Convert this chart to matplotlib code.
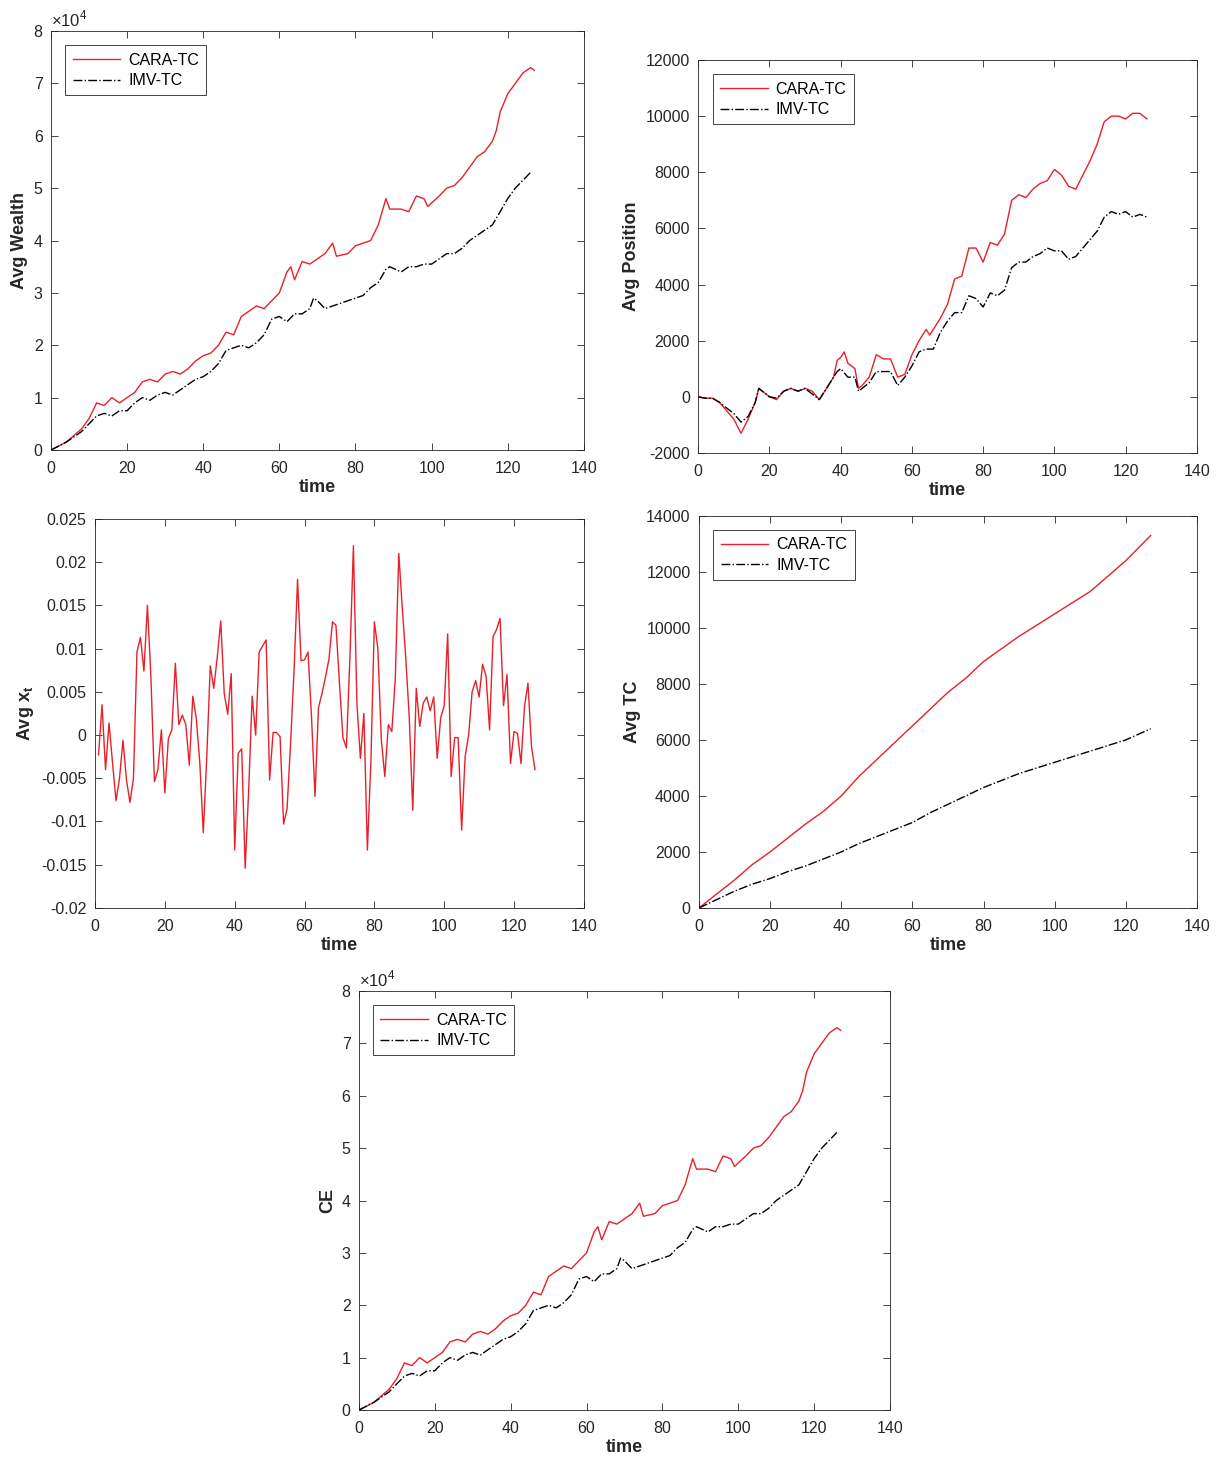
import matplotlib
matplotlib.use("Agg")
import matplotlib.pyplot as plt
from matplotlib.ticker import FuncFormatter
import numpy as np

plt.rcParams['font.family'] = ['Liberation Sans', 'DejaVu Sans']
plt.rcParams['mathtext.fontset'] = 'custom'
plt.rcParams['mathtext.rm'] = 'Liberation Sans'
plt.rcParams['mathtext.bf'] = 'Liberation Sans:bold'
plt.rcParams['axes.unicode_minus'] = False

# ---- data ----
w_t = [0,4,8,10,12,14,16,18,20,22,24,26,28,30,32,34,36,38,40,42,44,46,48,50,52,54,56,58,60,62,63,64,66,68,70,72,74,75,78,80,82,84,86,88,89,92,94,96,98,99,102,104,106,108,110,112,114,116,117,118,120,122,124,126,127]
wealth_cara = [0,0.15,0.4,0.6,0.9,0.85,1.0,0.9,1.0,1.1,1.3,1.35,1.3,1.45,1.5,1.45,1.55,1.7,1.8,1.85,2.0,2.25,2.2,2.55,2.65,2.75,2.7,2.85,3.0,3.4,3.5,3.25,3.6,3.55,3.65,3.75,3.95,3.7,3.75,3.9,3.95,4.0,4.3,4.8,4.6,4.6,4.55,4.85,4.8,4.65,4.85,5.0,5.05,5.2,5.4,5.6,5.7,5.9,6.1,6.45,6.8,7.0,7.2,7.3,7.25]
wi_t = [0,4,8,10,12,14,16,18,20,22,24,26,28,30,32,34,36,38,40,42,44,46,48,50,52,54,56,58,60,62,64,66,68,69,70,72,74,76,78,80,82,84,86,88,89,92,94,96,98,100,102,104,106,108,110,112,114,116,118,120,122,124,126]
wealth_imv = [0,0.15,0.35,0.5,0.65,0.7,0.65,0.75,0.75,0.9,1.0,0.95,1.05,1.1,1.05,1.15,1.25,1.35,1.4,1.5,1.65,1.9,1.95,2.0,1.95,2.05,2.2,2.5,2.55,2.45,2.6,2.6,2.7,2.9,2.85,2.7,2.75,2.8,2.85,2.9,2.95,3.1,3.2,3.45,3.5,3.4,3.5,3.5,3.55,3.55,3.65,3.75,3.75,3.85,4.0,4.1,4.2,4.3,4.55,4.8,5.0,5.15,5.3]
ce_cara = list(wealth_cara)
ce_imv = list(wealth_imv)

pc_t = [0,2,4,6,8,10,12,14,16,17,18,20,22,24,26,28,30,32,34,36,38,39,40,41,42,44,45,46,48,50,52,54,56,58,60,62,64,65,68,70,72,74,76,78,80,82,84,86,88,90,92,94,96,98,100,102,104,106,108,110,112,114,116,118,120,122,124,126]
pos_cara = [0,-50,-50,-200,-500,-800,-1300,-800,-200,300,200,0,-100,200,300,200,300,200,-100,300,700,1300,1400,1600,1200,1000,300,400,700,1500,1350,1350,700,800,1500,2000,2400,2200,2800,3300,4200,4300,5300,5300,4800,5500,5400,5800,7000,7200,7100,7400,7600,7700,8100,7900,7500,7400,7900,8400,9000,9800,10000,10000,9900,10100,10100,9900]
pi_t = [0,2,4,6,8,10,12,14,16,17,18,20,22,24,26,28,30,32,34,36,38,39,40,42,44,45,46,48,50,52,54,56,58,60,62,64,66,68,70,72,74,76,78,80,82,84,86,88,90,92,94,96,98,100,102,104,106,108,110,112,114,116,118,120,122,124,126]
pos_imv = [0,-50,-50,-200,-400,-600,-900,-700,-200,300,200,0,-50,200,300,200,300,100,-100,300,700,900,1000,700,700,200,300,500,900,900,900,400,700,1100,1600,1700,1700,2300,2700,3000,3000,3600,3500,3200,3700,3600,3800,4600,4800,4800,5000,5100,5300,5200,5200,4900,5000,5300,5600,5900,6400,6600,6500,6600,6400,6500,6400]

x_vals = [-0.0023,0.0035,-0.004,0.0014,-0.0032,-0.0076,-0.005,-0.0006,-0.0052,-0.0078,
          -0.005,0.0096,0.0113,0.0074,0.015,0.0067,-0.0054,-0.004,0.0006,-0.0067,
          -0.0004,0.0006,0.0083,0.0012,0.0023,0.0012,-0.0035,0.0045,0.0019,-0.0032,
          -0.0113,-0.0025,0.008,0.0054,0.009,0.0132,0.0048,0.0024,0.0071,-0.0133,
          -0.0021,-0.0016,-0.0154,-0.0064,0.0045,0.0,0.0096,0.0103,0.011,-0.0052,
          0.0003,0.0003,-0.0002,-0.0103,-0.0085,-0.001,0.0075,0.018,0.0086,0.0087,
          0.0096,0.0021,-0.0071,0.0032,0.0048,0.0067,0.0088,0.0131,0.0127,0.006,
          -0.0003,-0.0015,0.009,0.0219,0.0037,-0.0027,0.0025,-0.0133,-0.0032,0.0131,
          0.01,-0.0006,-0.0048,0.0012,0.0004,0.0066,0.021,0.0147,0.0089,0.002,
          -0.0087,0.0054,0.001,0.0037,0.0044,0.0028,0.0044,-0.0027,0.002,0.0034,
          0.0117,-0.0048,-0.0003,-0.0003,-0.011,-0.0025,0.0,0.005,0.0063,0.0044,
          0.0082,0.0068,0.0006,0.0114,0.0122,0.0135,0.0034,0.007,-0.0033,0.0004,
          0.0002,-0.0033,0.0033,0.006,-0.0013,-0.004]
x_t = list(range(1, len(x_vals) + 1))

tc_t = [0,5,10,15,20,25,30,35,40,45,50,55,60,65,70,75,80,85,90,95,100,105,110,115,120,127]
tc_cara = [0,500,1000,1550,2000,2500,3000,3450,4000,4700,5300,5900,6500,7100,7700,8200,8800,9250,9700,10100,10500,10900,11300,11850,12400,13300]
tc_imv = [0,300,600,850,1050,1300,1500,1750,2000,2300,2550,2800,3050,3400,3700,4000,4300,4550,4800,5000,5200,5400,5600,5800,6000,6400]

RED = '#e8202a'
GRAY = '#262626'
fig = plt.figure(figsize=(12.25, 14.63), dpi=100)

def style(ax, xlabel, ylabel, ylim, yticks):
    ax.set_xlim(0, 140)
    ax.set_xticks(range(0, 141, 20))
    ax.set_ylim(*ylim)
    ax.set_yticks(yticks)
    ax.tick_params(direction='in', top=True, right=True, labelsize=11.5, colors=GRAY, length=5, width=0.6)
    ax.tick_params(axis='x', pad=8)
    ax.tick_params(axis='y', pad=6)
    for s in ax.spines.values():
        s.set_color(GRAY); s.set_linewidth(0.6)
    ax.set_xlabel(xlabel, fontsize=13, fontweight='bold', color=GRAY, labelpad=2)
    ax.set_ylabel(ylabel, fontsize=13, fontweight='bold', color=GRAY)

def legend(ax):
    lg = ax.legend(loc='upper left', fontsize=11.5, fancybox=False, edgecolor=GRAY,
                   framealpha=1, borderaxespad=0.9, handlelength=3.0, borderpad=0.45,
                   labelspacing=0.35, handletextpad=0.5)
    lg.get_frame().set_linewidth(0.6)

e4 = FuncFormatter(lambda v, p: f"{v/1e4:g}")

# Avg Wealth
ax = fig.add_axes([0.0416, 0.6924, 0.435, 0.2864])
ax.plot(w_t, np.array(wealth_cara)*1e4, color=RED, lw=1, label='CARA-TC')
ax.plot(wi_t, np.array(wealth_imv)*1e4, color='k', lw=1, ls='-.', label='IMV-TC')
style(ax, 'time', 'Avg Wealth', (0, 8e4), np.arange(0, 8.01e4, 1e4))
ax.yaxis.set_major_formatter(e4)
ax.text(0, 1.005, r'$\times10^4$', transform=ax.transAxes, fontsize=12, color=GRAY, va='bottom')
legend(ax)

# Avg Position
ax = fig.add_axes([0.570, 0.6904, 0.407, 0.2686])
ax.plot(pc_t, pos_cara, color=RED, lw=1, label='CARA-TC')
ax.plot(pi_t, pos_imv, color='k', lw=1, ls='-.', label='IMV-TC')
style(ax, 'time', 'Avg Position', (-2000, 12000), range(-2000, 12001, 2000))
legend(ax)

# Avg x_t
ax = fig.add_axes([0.0776, 0.3794, 0.399, 0.2659])
ax.plot(x_t, x_vals, color=RED, lw=1)
style(ax, 'time', r'Avg $\mathbf{x_t}$', (-0.02, 0.025), np.arange(-0.02, 0.0251, 0.005))
ax.yaxis.set_major_formatter(FuncFormatter(lambda v, p: f"{round(v,3):g}"))

# Avg TC
ax = fig.add_axes([0.5706, 0.3794, 0.4065, 0.268])
ax.plot(tc_t, tc_cara, color=RED, lw=1, label='CARA-TC')
ax.plot(tc_t, tc_imv, color='k', lw=1, ls='-.', label='IMV-TC')
style(ax, 'time', 'Avg TC', (0, 14000), range(0, 14001, 2000))
legend(ax)

# CE
ax = fig.add_axes([0.293, 0.0362, 0.4335, 0.2864])
ax.plot(w_t, np.array(ce_cara)*1e4, color=RED, lw=1, label='CARA-TC')
ax.plot(wi_t, np.array(ce_imv)*1e4, color='k', lw=1, ls='-.', label='IMV-TC')
style(ax, 'time', 'CE', (0, 8e4), np.arange(0, 8.01e4, 1e4))
ax.yaxis.set_major_formatter(e4)
ax.text(0, 1.005, r'$\times10^4$', transform=ax.transAxes, fontsize=12, color=GRAY, va='bottom')
legend(ax)

fig.savefig('out.png', dpi=100)
